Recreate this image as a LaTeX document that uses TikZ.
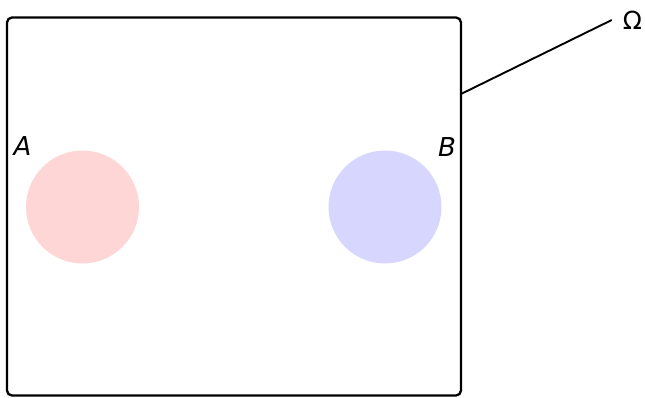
\documentclass[tikz,border=0pt]{standalone}
\usepackage{fontspec}
\setmainfont{DejaVu Sans}
\definecolor{pinkfill}{HTML}{FFD6D6}
\definecolor{bluefill}{HTML}{D6D6FF}
\begin{document}
\begin{tikzpicture}[x=1pt,y=-1pt,
  lbl/.style={font=\fontsize{26}{30}\selectfont\itshape, inner sep=0pt},
  disc/.style={circle, draw=none, minimum size=113pt, inner sep=0pt},
  frame/.style={draw=black, line width=2.3pt, rounded corners=5pt, inner sep=0pt}]
\useasboundingbox (0,0) rectangle (645,397);
\node[frame, minimum width=454pt, minimum height=378pt] (omegabox) at (234,206.5) {};
\node[disc, fill=pinkfill] (A) at (82.5,207) {};
\node[disc, fill=bluefill] (B) at (385,207) {};
\node[lbl] (la) at (22.5,146.5) {A};
\node[lbl] (lb) at (447,147.5) {B};
\node[font=\fontsize{25}{28}\selectfont, inner xsep=11pt, inner ysep=0pt] (om) at (632.5,20) {Ω};
\coordinate (p) at (461,94);
\draw[line width=1.9pt] (p) -- (om.west);
\end{tikzpicture}
\end{document}
